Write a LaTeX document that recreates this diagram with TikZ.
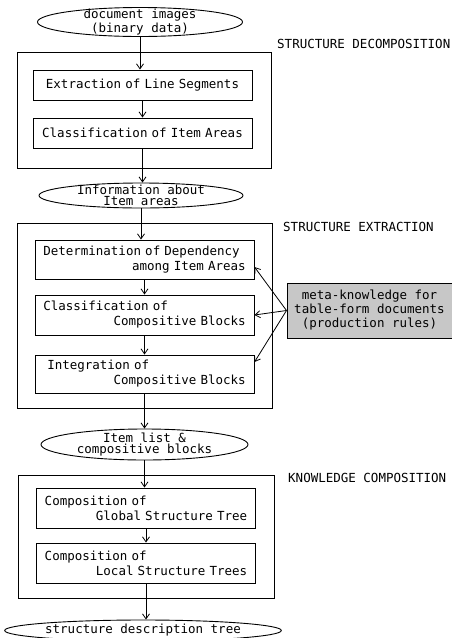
\documentclass[tikz,border=0pt]{standalone}
\usepackage{fontspec}
\usetikzlibrary{shapes.geometric,arrows.meta}
\newfontfamily\diagfont{DejaVu Sans Mono}
\newcommand{\tworows}[2]{#1\\\hspace*{\fill}#2}

\begin{document}
\begin{tikzpicture}[x=1pt,y=-1pt,
  font=\diagfont\fontsize{12.5}{15}\selectfont,
  frame/.style={draw, line width=1pt, inner sep=0pt},
  stage/.style={draw, line width=1pt, inner sep=0pt, minimum width=219pt,
    text width=202.5pt, align=left},
  data/.style={draw, ellipse, line width=.9pt, inner xsep=0pt, inner ysep=-3pt,
    align=center, font=\diagfont\fontsize{12.5}{11}\selectfont},
  phase/.style={anchor=west, inner sep=0pt},
  flow/.style={line width=.8pt, -{Straight Barb[length=5pt,width=7pt]}}]
%\draw[help lines] (0,0) grid[step=50] (451,638);
\useasboundingbox (0,0) rectangle (451,638);

% stage 1
\node[data, minimum width=205pt, minimum height=29pt] (img) at (140,22)
  {document images\\(binary data)};
\node[frame, minimum width=254pt, minimum height=116pt] (dec) at (144,110) {};
\node[phase] (declab) at (277,44) {STRUCTURE DECOMPOSITION};
\node[stage, minimum height=30pt, align=center] (seg) at (142.5,85)
  {Extraction of Line Segments};
\node[stage, minimum height=30pt, align=center] (cls) at (142.5,133)
  {Classification of Item Areas};

% stage 2
\node[data, minimum width=204pt, minimum height=25pt] (info) at (141,195.5)
  {Information about\\Item areas};
\node[frame, minimum width=255pt, minimum height=185pt] (ext) at (144.5,315.5) {};
\node[phase] (extlab) at (283,227) {STRUCTURE EXTRACTION};
\node[stage, minimum height=39pt] (dep) at (144.5,259.5)
  {\tworows{Determination of Dependency}{among Item Areas\hspace*{15pt}}};
\node[stage, minimum height=40pt] (blk) at (144.5,315)
  {\tworows{Classification of}{Compositive Blocks}};
\node[stage, minimum height=38pt] (intg) at (144.5,374)
  {\tworows{\hspace*{4pt}Integration of}{Compositive Blocks}};
\node[draw, line width=1pt, fill=black!22, minimum width=165pt, minimum height=55pt,
  align=center, font=\diagfont\fontsize{12.5}{14}\selectfont] (meta) at (369.5,310.5)
  {meta-knowledge for\\table-form documents\\(production rules)};

% stage 3
\node[data, minimum width=207pt, minimum height=31pt] (items) at (144.5,444.5)
  {Item list \&\\compositive blocks};
\node[frame, minimum width=256pt, minimum height=123pt] (cmp) at (146,536.5) {};
\node[phase] (cmplab) at (288,478) {KNOWLEDGE COMPOSITION};
\node[stage, minimum height=40pt] (glob) at (146,508)
  {\tworows{Composition of}{Global Structure Tree}};
\node[stage, minimum height=40pt] (loc) at (146,563)
  {\tworows{Composition of}{Local Structure Trees}};
\node[data, minimum width=270pt, minimum height=21pt] (tree) at (143,630.5)
  {structure description tree};

% connectors
\draw[flow] (img.south) -- (img.south |- seg.north);
\draw[flow] (seg.south) -- (cls.north);
\draw[flow] (cls.south) -- (cls.south |- info.north);
\draw[flow] (info.south) -- (info.south |- dep.north);
\draw[flow] (dep.south) -- (blk.north);
\draw[flow] (blk.south) -- (intg.north);
\draw[flow] (intg.south) -- (intg.south |- items.north);
\draw[flow] (items.south) -- (items.south |- glob.north);
\draw[flow] (glob.south) -- (loc.north);
\draw[flow] (loc.south) -- (loc.south |- tree.north);

\draw[flow] (meta.west) -- ([yshift=-7.5pt]dep.east);
\draw[flow] (meta.west) -- (blk.east);
\draw[flow] (meta.west) -- ([yshift=12pt]intg.east);

\end{tikzpicture}
\end{document}
